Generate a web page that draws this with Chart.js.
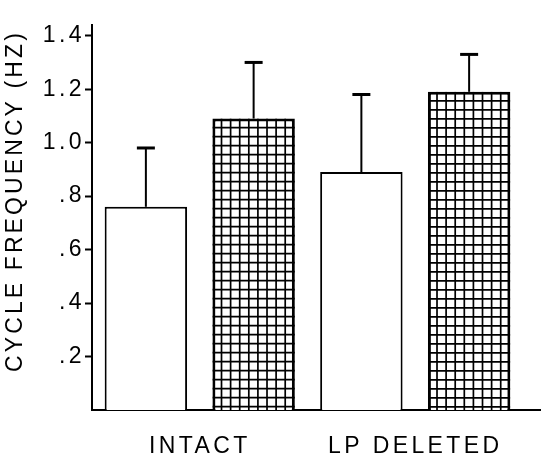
<!DOCTYPE html>
<html>
<head>
<meta charset="utf-8">
<script src="https://cdn.jsdelivr.net/npm/chart.js@4"></script>
<style>
  body { margin: 0; background: #fff; }
  #wrap { width: 543px; height: 461px; }
</style>
</head>
<body>
<div id="wrap"><canvas id="freq-chart" width="543" height="461"></canvas></div>
<script>
// data
const groups = ['INTACT', 'LP DELETED'];
const openMeans = [0.76, 0.89];
const openErr = [0.22, 0.29];
const gridMeans = [1.09, 1.19];
const gridErr = [0.21, 0.14];
const yTicks = [0.2, 0.4, 0.6, 0.8, 1.0, 1.2, 1.4];
const yTickLabels = ['.2', '.4', '.6', '.8', '1.0', '1.2', '1.4'];
const yTitle = 'CYCLE FREQUENCY (HZ)';

// crosshatch fill + upward error bars + extended baseline + y title
const figurePlugin = {
    id: 'figure',
    beforeDraw(chart) {
        // the typeset labels are spaced out
        chart.ctx.letterSpacing = '3.4px';
    },
    afterDatasetsDraw(chart) {
        const ctx = chart.ctx;
        const y = chart.scales.y;
        ctx.save();
        ctx.letterSpacing = '0px';
        // grid pattern inside hatched bars
        chart.getDatasetMeta(1).data.forEach(bar => {
            const left = bar.x - bar.width / 2;
            const top = bar.y;
            const bottom = bar.base;
            ctx.save();
            ctx.beginPath();
            ctx.rect(left, top, bar.width, bottom - top);
            ctx.clip();
            ctx.strokeStyle = '#000';
            ctx.lineWidth = 1.7;
            ctx.beginPath();
            for (let x = left + 9.1; x < left + bar.width - 2; x += 9.1) {
                ctx.moveTo(x, top);
                ctx.lineTo(x, bottom);
            }
            for (let yy = top + 9; yy < bottom; yy += 9) {
                ctx.moveTo(left, yy);
                ctx.lineTo(left + bar.width, yy);
            }
            ctx.stroke();
            ctx.restore();
        });
        // error bars (upper half only)
        const errs = [openErr, gridErr];
        const means = [openMeans, gridMeans];
        [0, 1].forEach(d => {
            chart.getDatasetMeta(d).data.forEach((bar, i) => {
                const yTop = y.getPixelForValue(means[d][i] + errs[d][i]);
                ctx.strokeStyle = '#000';
                ctx.lineWidth = 2;
                ctx.beginPath();
                ctx.moveTo(bar.x, bar.y);
                ctx.lineTo(bar.x, yTop);
                ctx.stroke();
                ctx.lineWidth = 3;
                ctx.beginPath();
                ctx.moveTo(bar.x - 9, yTop);
                ctx.lineTo(bar.x + 9, yTop);
                ctx.stroke();
            });
        });
        ctx.restore();
    },
    afterDraw(chart) {
        const ctx = chart.ctx;
        const area = chart.chartArea;
        ctx.save();
        // baseline runs past the last bar
        ctx.strokeStyle = '#000';
        ctx.lineWidth = 2;
        ctx.beginPath();
        ctx.moveTo(area.right - 2, area.bottom);
        ctx.lineTo(541, area.bottom);
        ctx.stroke();
        // rotated axis title with wide letter spacing
        ctx.translate(16, 198);
        ctx.rotate(-Math.PI / 2);
        ctx.font = '23px "Liberation Sans", Arial, sans-serif';
        ctx.letterSpacing = '3.1px';
        ctx.fillStyle = '#000';
        ctx.textAlign = 'center';
        ctx.textBaseline = 'middle';
        ctx.fillText(yTitle, -3, 0);
        ctx.restore();
    }
};

const ctx = document.getElementById('freq-chart').getContext('2d');
const freqChart = new Chart(ctx, {
    type: 'bar',
    data: {
        labels: groups,
        datasets: [{
            data: openMeans,
            backgroundColor: '#fff',
            borderColor: '#000',
            borderWidth: 2,
            borderSkipped: 'start'
        }, {
            data: gridMeans,
            backgroundColor: '#fff',
            borderColor: '#000',
            borderWidth: 3,
            borderSkipped: 'start'
        }]
    },
    options: {
        responsive: false,
        animation: false,
        layout: {
            padding: { top: 25, right: 20, left: 0, bottom: 0 }
        },
        datasets: {
            bar: {
                categoryPercentage: 1.0,
                barPercentage: 0.765
            }
        },
        plugins: {
            legend: { display: false },
            tooltip: { enabled: false }
        },
        scales: {
            x: {
                grid: { display: false },
                border: { color: '#000', width: 2 },
                ticks: {
                    color: '#000',
                    padding: 15,
                    font: { family: '"Liberation Sans", Arial, sans-serif', size: 23 }
                },
                afterFit(scale) { scale.height = 51; }
            },
            y: {
                min: 0,
                max: 1.44,
                grid: {
                    drawOnChartArea: false,
                    drawTicks: true,
                    tickLength: 7,
                    tickWidth: 2,
                    tickColor: '#000'
                },
                border: { color: '#000', width: 2 },
                ticks: {
                    color: '#000',
                    padding: 0,
                    font: { family: '"Liberation Sans", Arial, sans-serif', size: 23 },
                    callback: (value, i) => yTickLabels[i]
                },
                afterBuildTicks(scale) {
                    scale.ticks = yTicks.map(v => ({ value: v }));
                },
                afterFit(scale) { scale.width = 92; }
            }
        }
    },
    plugins: [figurePlugin]
});
</script>
</body>
</html>
